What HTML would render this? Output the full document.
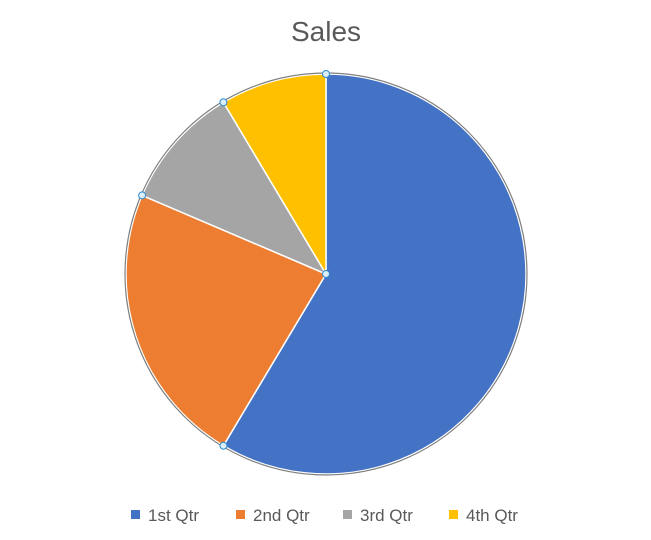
<!DOCTYPE html>
<html><head><meta charset="utf-8"><style>
html,body{margin:0;padding:0;background:#fff;}
body{width:651px;height:535px;overflow:hidden;font-family:"Liberation Sans",sans-serif;}
</style></head><body>
<svg id="chart" width="651" height="535" xmlns="http://www.w3.org/2000/svg">
<text x="326" y="41" text-anchor="middle" font-size="28" fill="#595959" font-family="Liberation Sans, sans-serif">Sales</text>
<g id="slices"></g>
<g id="handles"></g>
<g id="legend"></g>
</svg>
<script>
const categories = ["1st Qtr","2nd Qtr","3rd Qtr","4th Qtr"];
const values = [8.2, 3.2, 1.4, 1.2];
const colors = ["#4472C4","#ED7D31","#A5A5A5","#FFC000"];
const cx = 326, cy = 274, r = 200;
const NS = "http://www.w3.org/2000/svg";
const total = values.reduce((a,b)=>a+b,0);
function pt(a){ return [cx + r*Math.sin(a), cy - r*Math.cos(a)]; }
const slices = document.getElementById('slices');
const handles = document.getElementById('handles');
let a0 = 0;
const bounds = [0];
values.forEach((v,i)=>{
  const a1 = a0 + v/total*2*Math.PI;
  const [x0,y0] = pt(a0), [x1,y1] = pt(a1);
  const large = (a1-a0) > Math.PI ? 1 : 0;
  const p = document.createElementNS(NS,'path');
  p.setAttribute('d',`M${cx},${cy} L${x0},${y0} A${r},${r} 0 ${large} 1 ${x1},${y1} Z`);
  p.setAttribute('fill',colors[i]);
  p.setAttribute('stroke','#fff');
  p.setAttribute('stroke-width','1.5');
  
  
  slices.appendChild(p);
  bounds.push(a1);
  a0 = a1;
});
const outline = document.createElementNS(NS,'circle');
outline.setAttribute('cx',cx); outline.setAttribute('cy',cy); outline.setAttribute('r',r+1);
outline.setAttribute('fill','none'); outline.setAttribute('stroke','#7f7f7f'); outline.setAttribute('stroke-width','1.2');


slices.appendChild(outline);
function handle(x,y){
  const c = document.createElementNS(NS,'circle');
  c.setAttribute('cx',x); c.setAttribute('cy',y); c.setAttribute('r',3.5);
  c.setAttribute('fill','#dbeefa'); c.setAttribute('stroke','#2e8bd0'); c.setAttribute('stroke-width','1');
  
  
  handles.appendChild(c);
}
handle(cx,cy);
bounds.slice(0,-1).forEach(a=>{ const [x,y]=pt(a); handle(x,y); });
const legend = document.getElementById('legend');
const lx = [131,236,343,449];
categories.forEach((c,i)=>{
  const g = document.createElementNS(NS,'g');
  
  
  const s = document.createElementNS(NS,'rect');
  s.setAttribute('x',lx[i]); s.setAttribute('y',510); s.setAttribute('width',9); s.setAttribute('height',9);
  s.setAttribute('fill',colors[i]);
  g.appendChild(s);
  const t = document.createElementNS(NS,'text');
  t.setAttribute('x',lx[i]+17); t.setAttribute('y',521);
  t.setAttribute('font-size','17'); t.setAttribute('fill','#595959');
  t.textContent = c;
  g.appendChild(t);
  legend.appendChild(g);
});
</script>
</body></html>
